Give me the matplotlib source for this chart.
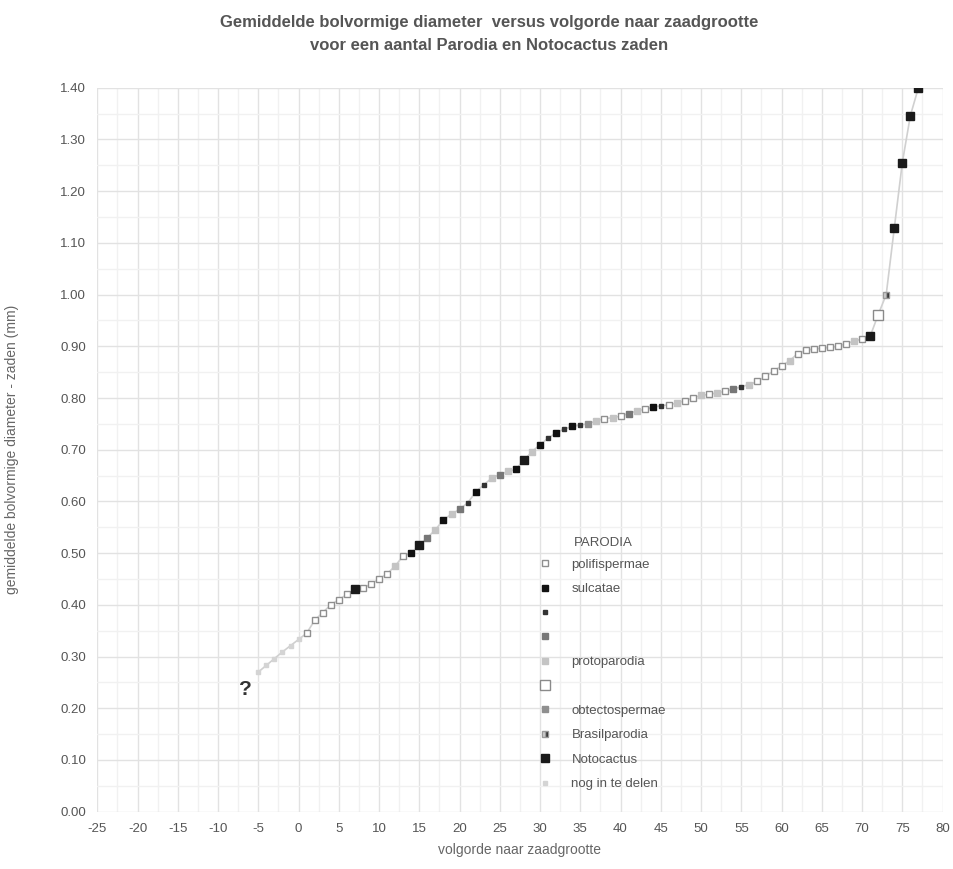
import numpy as np
import matplotlib
matplotlib.use("Agg")
import matplotlib.pyplot as plt
from matplotlib.ticker import MultipleLocator, FormatStrFormatter

plt.rcParams['font.family'] = ['Liberation Sans', 'DejaVu Sans']
plt.rcParams['axes.unicode_minus'] = False

# unknown seeds ("?"), ranks -5..0
rank_unknown = [-5, -4, -3, -2, -1, 0]
diam_unknown = [0.270, 0.283, 0.296, 0.309, 0.321, 0.333]

# ranked seeds 1..77
rank = list(range(1, 78))
diam = [0.345, 0.370, 0.385, 0.400, 0.410, 0.420, 0.430, 0.433, 0.440, 0.450,
        0.460, 0.475, 0.495, 0.500, 0.515, 0.530, 0.545, 0.565, 0.575, 0.585,
        0.597, 0.618, 0.632, 0.645, 0.652, 0.658, 0.662, 0.680, 0.696, 0.710,
        0.722, 0.733, 0.740, 0.745, 0.748, 0.750, 0.756, 0.760, 0.762, 0.765,
        0.770, 0.775, 0.778, 0.782, 0.785, 0.787, 0.790, 0.795, 0.800, 0.805,
        0.807, 0.810, 0.813, 0.817, 0.822, 0.826, 0.832, 0.842, 0.852, 0.862,
        0.872, 0.886, 0.892, 0.895, 0.896, 0.898, 0.900, 0.905, 0.910, 0.914,
        0.919, 0.961, 1.000, 1.128, 1.255, 1.346, 1.400]
group = ['pol', 'pol', 'pol', 'pol', 'pol', 'pol', 'not', 'pol', 'pol', 'pol',
         'pol', 'pro', 'pol', 'sul', 'not', 'g1', 'pro', 'sul', 'pro', 'g1',
         'd1', 'sul', 'd1', 'pro', 'g1', 'pro', 'sul', 'not', 'pro', 'sul',
         'd1', 'sul', 'd1', 'sul', 'd1', 'obt', 'pro', 'pol', 'pro', 'pol',
         'g1', 'pro', 'pol', 'sul', 'd1', 'pol', 'pro', 'pol', 'pol', 'pro',
         'pol', 'pro', 'pol', 'g1', 'd1', 'pro', 'pol', 'pol', 'pol', 'pol',
         'pro', 'pol', 'pol', 'pol', 'pol', 'pol', 'pol', 'pol', 'pro', 'pol',
         'not', 'big', 'bra', 'not', 'not', 'not', 'not']

group_keys = ['pol', 'sul', 'd1', 'g1', 'pro', 'big', 'obt', 'bra', 'not', 'nog']
group_labels = ['polifispermae', 'sulcatae', ' ', ' ', 'protoparodia', ' ',
                'obtectospermae', 'Brasilparodia', 'Notocactus', 'nog in te delen']

styles = {
    'pol': dict(marker='s', ms=4, mfc='white', mec='#8f8f8f', mew=1),
    'sul': dict(marker='s', ms=4.5, mfc='#111111', mec='#111111'),
    'd1': dict(marker='s', ms=3.5, mfc='#333333', mec='#333333'),
    'g1': dict(marker='s', ms=4, mfc='#777777', mec='#777777'),
    'pro': dict(marker='s', ms=4, mfc='#c4c4c4', mec='#c4c4c4'),
    'big': dict(marker='s', ms=6.5, mfc='white', mec='#8a8a8a', mew=1),
    'obt': dict(marker='s', ms=4.5, mfc='#8f8f8f', mec='#8f8f8f'),
    'bra': dict(marker='s', ms=5, mfc='#222222', mec='#999999', fillstyle='right',
                markerfacecoloralt='#d0d0d0'),
    'not': dict(marker='s', ms=5.5, mfc='#1a1a1a', mec='#1a1a1a'),
    'nog': dict(marker='s', ms=3.5, mfc='#d4d4d4', mec='#d4d4d4'),
}

fig = plt.figure(figsize=(9.54, 8.69), dpi=100)
ax = fig.add_axes([0.102, 0.066, 0.886, 0.833])

# connecting line through all seeds
ax.plot(rank_unknown + rank, diam_unknown + diam, color='#d0d0d0', lw=1.2, zorder=2)

rank_a = np.array(rank)
diam_a = np.array(diam)
group_a = np.array(group)
for key, lab in zip(group_keys, group_labels):
    if key == 'nog':
        ax.plot(rank_unknown, diam_unknown, ls='none', label=lab, zorder=3, **styles[key])
        continue
    sel = group_a == key
    ax.plot(rank_a[sel], diam_a[sel], ls='none', label=lab, zorder=3, **styles[key])

ax.text(-6.6, 0.236, '?', fontsize=15, fontweight='bold', color='#333333',
        ha='center', va='center')

ax.set_xlim(-25, 80)
ax.set_ylim(0, 1.4)
ax.xaxis.set_major_locator(MultipleLocator(5))
ax.xaxis.set_minor_locator(MultipleLocator(2.5))
ax.yaxis.set_major_locator(MultipleLocator(0.1))
ax.yaxis.set_minor_locator(MultipleLocator(0.05))
ax.yaxis.set_major_formatter(FormatStrFormatter('%.2f'))
ax.grid(which='major', color='#e2e2e2', lw=1)
ax.grid(which='minor', color='#f1f1f1', lw=1)
ax.set_axisbelow(True)
for sp in ax.spines.values():
    sp.set_visible(False)
ax.tick_params(which='both', length=0, colors='#555555', labelsize=9.5, pad=8)

ax.set_xlabel('volgorde naar zaadgrootte', fontsize=10, color='#666666', labelpad=6)
ax.set_ylabel('gemiddelde bolvormige diameter - zaden (mm)', fontsize=10,
              color='#666666', labelpad=30)

fig.text(0.513, 0.974, 'Gemiddelde bolvormige diameter  versus volgorde naar zaadgrootte',
         ha='center', va='center', fontsize=12, fontweight='bold', color='#555555')
fig.text(0.513, 0.948, 'voor een aantal Parodia en Notocactus zaden',
         ha='center', va='center', fontsize=12, fontweight='bold', color='#555555')

leg = ax.legend(loc='upper left', bbox_to_anchor=(0.5, 0.366), frameon=False,
                fontsize=9.5, labelspacing=0.92, handletextpad=1.0)
for t in leg.get_texts():
    t.set_color('#555555')
ax.text(0.564, 0.371, 'PARODIA', transform=ax.transAxes, fontsize=9.5,
        color='#555555', ha='left', va='center')

fig.savefig('out.png', dpi=100)
